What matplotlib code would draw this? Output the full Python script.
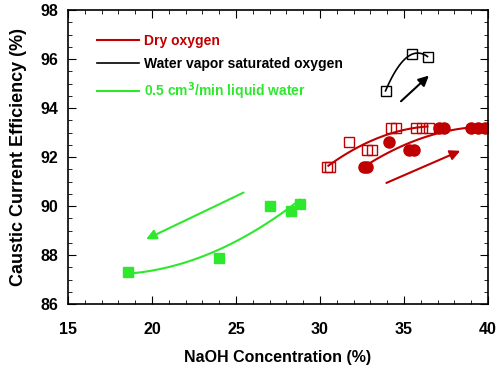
import numpy as np
import matplotlib.pyplot as plt
from matplotlib.ticker import MultipleLocator

plt.rcParams['font.family'] = ['Liberation Sans', 'DejaVu Sans']
plt.rcParams['font.weight'] = 'bold'

red = '#c00000'
green = '#2de82d'

# dry oxygen, open squares
dry_sq_x = [30.4, 30.6, 31.7, 32.8, 33.1, 34.2, 34.5, 35.7, 36.1, 36.5]
dry_sq_y = [91.6, 91.6, 92.6, 92.3, 92.3, 93.2, 93.2, 93.2, 93.2, 93.2]
# dry oxygen, filled circles
dry_ci_x = [32.6, 32.8, 34.1, 35.3, 35.6, 37.1, 37.4, 39.0, 39.4, 39.8]
dry_ci_y = [91.6, 91.6, 92.6, 92.3, 92.3, 93.2, 93.2, 93.2, 93.2, 93.2]
# water vapor saturated oxygen
wet_x = [33.9, 35.5, 36.4]
wet_y = [94.7, 96.2, 96.1]
# liquid water
liq_x = [18.6, 24.0, 27.0, 28.3, 28.8]
liq_y = [87.3, 87.9, 90.0, 89.8, 90.1]

font_tick = 11.5
font_label = 11.5

fig = plt.figure(figsize=(5, 3.7), dpi=100)
ax = fig.add_axes([0.136, 0.178, 0.84, 0.795])

# fitted trend curves
p = np.polyfit(dry_sq_x, dry_sq_y, 2)
xs = np.linspace(30.5, 36.4, 100)
ax.plot(xs, np.polyval(p, xs), color=red, lw=1.5, label='Dry oxygen')
p = np.polyfit(dry_ci_x, dry_ci_y, 2)
xs = np.linspace(32.7, 39.9, 100)
ax.plot(xs, np.polyval(p, xs), color=red, lw=1.5)
p = np.polyfit(wet_x, wet_y, 2)
xs = np.linspace(33.9, 36.4, 100)
ax.plot(xs, np.polyval(p, xs), color='black', lw=1.2,
        label='Water vapor saturated oxygen')
p = np.polyfit(liq_x, liq_y, 2)
xs = np.linspace(18.6, 28.8, 100)
ax.plot(xs, np.polyval(p, xs), color=green, lw=1.5,
        label='0.5 cm$^3$/min liquid water')

ax.plot(dry_sq_x, dry_sq_y, 's', ms=7, mfc='none', mec=red, mew=1)
ax.plot(dry_ci_x, dry_ci_y, 'o', ms=8, color=red)
ax.plot(wet_x, wet_y, 's', ms=7, mfc='none', mec='black', mew=1)
ax.plot(liq_x, liq_y, 's', ms=7, color=green)

arr = dict(arrowstyle='-|>', lw=1.5, mutation_scale=15)
ax.annotate('', xy=(38.5, 92.3), xytext=(33.8, 90.9),
            arrowprops=dict(arr, color=red))
ax.annotate('', xy=(36.6, 95.4), xytext=(34.7, 94.2),
            arrowprops=dict(arr, color='black'))
ax.annotate('', xy=(19.5, 88.6), xytext=(25.6, 90.6),
            arrowprops=dict(arr, color=green))

ax.set_xlim(15, 40)
ax.set_ylim(86, 98)
ax.xaxis.set_major_locator(MultipleLocator(5))
ax.xaxis.set_minor_locator(MultipleLocator(1))
ax.yaxis.set_major_locator(MultipleLocator(2))
ax.yaxis.set_minor_locator(MultipleLocator(0.5))
ax.tick_params(which='both', direction='in', top=True, right=True,
               labelsize=font_tick)
ax.tick_params(axis='x', pad=13)
ax.tick_params(axis='y', pad=7)
ax.tick_params(which='major', length=6)
ax.tick_params(which='minor', length=3)
for s in ax.spines.values():
    s.set_linewidth(1.2)

ax.set_xlabel('NaOH Concentration (%)', fontsize=font_label,
              fontweight='bold', labelpad=9)
ax.set_ylabel('Caustic Current Efficiency (%)', fontsize=13,
              fontweight='bold', labelpad=10)

leg = ax.legend(loc='upper left', bbox_to_anchor=(0.04, 0.96), frameon=False,
                fontsize=10, handlelength=3.0, handletextpad=0.35,
                labelspacing=0.65, labelcolor='linecolor')

fig.savefig('out.png')
